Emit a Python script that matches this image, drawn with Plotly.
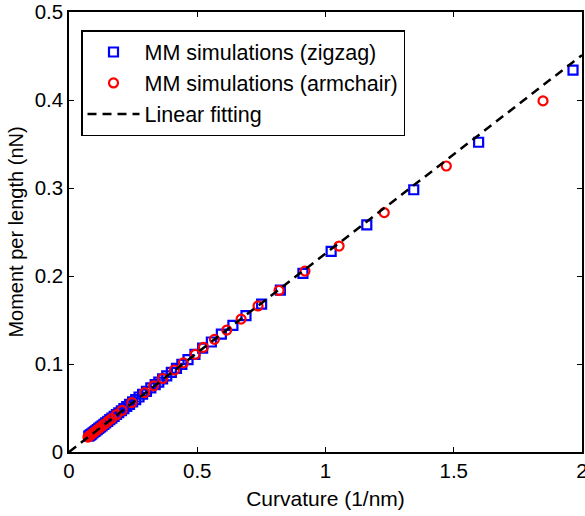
import plotly.graph_objects as go

# Zigzag MM simulations: curvature (1/nm), moment per length (nN)
zz_x = [1.965, 1.597, 1.344, 1.161, 1.022, 0.912, 0.824, 0.751, 0.690, 0.639,
        0.594, 0.555, 0.521, 0.491, 0.464, 0.440, 0.419, 0.399, 0.381, 0.365,
        0.350, 0.336, 0.319, 0.302, 0.287, 0.273, 0.260, 0.248, 0.236, 0.225,
        0.214, 0.204, 0.194, 0.185, 0.176, 0.167, 0.159, 0.151, 0.143, 0.136,
        0.129, 0.122, 0.116, 0.110, 0.104, 0.099, 0.094, 0.089, 0.085, 0.081, 0.077]
zz_y = [0.434, 0.352, 0.298, 0.258, 0.228, 0.203, 0.184, 0.168, 0.155, 0.144,
        0.134, 0.125, 0.118, 0.111, 0.105, 0.0995, 0.095, 0.0905, 0.0865, 0.083,
        0.0795, 0.0765, 0.0728, 0.069, 0.0656, 0.0625, 0.0596, 0.0569, 0.0542, 0.0517,
        0.0492, 0.0469, 0.0446, 0.0426, 0.0405, 0.0385, 0.0367, 0.0349, 0.033, 0.0314,
        0.0298, 0.0282, 0.0268, 0.0255, 0.0241, 0.023, 0.0219, 0.0207, 0.0198, 0.0189, 0.018]

# Armchair MM simulations
ac_x = [1.848, 1.471, 1.229, 1.053, 0.920, 0.819, 0.737, 0.671, 0.615, 0.567,
        0.524, 0.492, 0.446, 0.411, 0.365, 0.330, 0.295, 0.245, 0.207, 0.185,
        0.166, 0.152, 0.140, 0.129, 0.119, 0.110, 0.102, 0.095, 0.089, 0.083,
        0.078, 0.074]
ac_y = [0.399, 0.325, 0.272, 0.234, 0.2055, 0.1835, 0.166, 0.151, 0.1385, 0.128,
        0.119, 0.111, 0.1013, 0.0932, 0.0835, 0.0752, 0.0675, 0.0562, 0.0474, 0.0424,
        0.038, 0.0349, 0.0321, 0.0296, 0.0273, 0.0252, 0.0234, 0.0218, 0.0204, 0.019,
        0.0179, 0.017]

# Linear fitting
fit_x = [0.0, 2.0]
fit_y = [0.0, 0.451]

x_ticks = [0, 0.5, 1, 1.5, 2]
y_ticks = [0, 0.1, 0.2, 0.3, 0.4, 0.5]

FONT = "Liberation Sans, Arial, Helvetica, sans-serif"

fig = go.Figure()
fig.add_trace(go.Scatter(
    x=zz_x, y=zz_y, mode="markers", name="MM simulations (zigzag)",
    legendgroup="a",
    marker=dict(symbol="square-open", size=9, color="#0000ff",
                line=dict(width=2.2, color="#0000ff"))))
fig.add_trace(go.Scatter(
    x=ac_x, y=ac_y, mode="markers", name="MM simulations (armchair)",
    legendgroup="b",
    marker=dict(symbol="circle-open", size=9, color="#ff0000",
                line=dict(width=2.2, color="#ff0000"))))
fig.add_trace(go.Scatter(
    x=fit_x, y=fit_y, mode="lines", name="Linear fitting",
    legendgroup="c",
    line=dict(color="black", width=2.5, dash="9px,6px")))

axis_common = dict(
    showgrid=False, zeroline=False, showline=True, linecolor="black",
    linewidth=1.5, mirror="ticks", ticks="inside", ticklen=5, tickwidth=1,
    tickcolor="black", tickfont=dict(family=FONT, size=20.5, color="black"),
    ticklabeloverflow="allow",
)

fig.update_layout(
    width=585, height=516,
    margin=dict(l=69, r=3, t=12, b=64),
    paper_bgcolor="white", plot_bgcolor="white",
    font=dict(family=FONT, size=20, color="black"),
    xaxis=dict(range=[0, 2], tickvals=x_ticks, ticktext=[str(v) for v in x_ticks],
               title=dict(text="Curvature (1/nm)", standoff=10,
                          font=dict(family=FONT, size=21)),
               automargin=False, **axis_common),
    yaxis=dict(range=[0, 0.5], tickvals=y_ticks, ticktext=[str(v) for v in y_ticks],
               title=dict(text="Moment per length (nN)", standoff=6,
                          font=dict(family=FONT, size=20)),
               automargin=False, **axis_common),
    legend=dict(x=0.0234, y=0.959, xanchor="left", yanchor="top",
                bgcolor="white", bordercolor="black", borderwidth=1.5,
                font=dict(family=FONT, size=21.5, color="black"),
                traceorder="grouped", tracegroupgap=0, itemwidth=52),
    showlegend=True,
)

fig.write_html("out.html")
